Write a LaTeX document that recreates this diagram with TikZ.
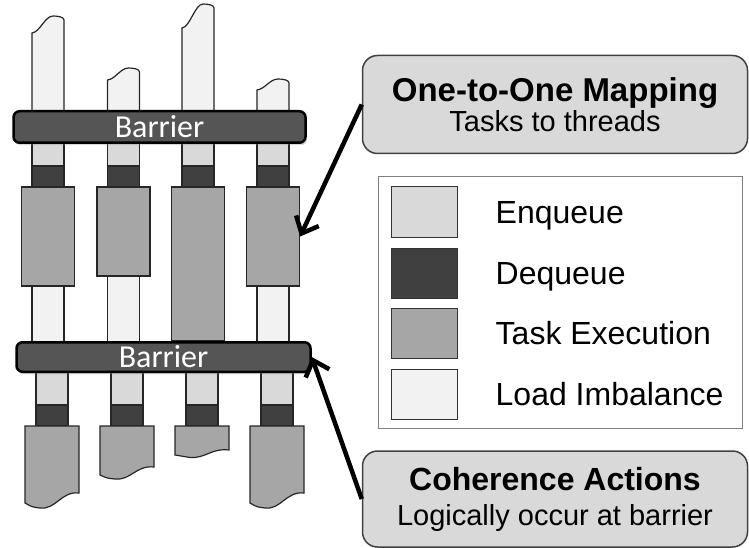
\documentclass[tikz,border=0pt]{standalone}
\usepackage{fontspec}
\setmainfont{Liberation Sans}
\newfontfamily\barfont{Carlito}
\usepackage{tikz}
\usetikzlibrary{positioning,arrows.meta,shadows}
\definecolor{enq}{HTML}{D9D9D9}
\definecolor{deq}{HTML}{404040}
\definecolor{exec}{HTML}{A6A6A6}
\definecolor{imbal}{HTML}{F2F2F2}
\definecolor{barfill}{HTML}{555555}
\tikzset{
 thread/.style={draw=black!85,line width=1.2pt},
 enqueue/.style={thread,fill=enq},
 dequeue/.style={thread,fill=deq},
 imbalance/.style={thread,fill=imbal},
 taskbox/.style={thread,fill=exec,rectangle,inner sep=0pt,minimum width=53pt},
 barrier/.style={rectangle,rounded corners=6pt,draw=black,line width=2.5pt,
   fill=barfill,text=white,inner sep=0pt,
   font=\barfont\fontsize{32}{32}\selectfont,text height=20.6pt,text depth=0pt,
   drop shadow={opacity=0.3,shadow xshift=1.5pt,shadow yshift=-2.5pt}},
 callout/.style={rectangle,rounded corners=15pt,draw=black!75,line width=1.5pt,
   fill=enq,minimum width=385pt,align=center,inner sep=0pt},
 swatch/.style={rectangle,draw=black!80,line width=1pt,minimum width=66pt,
   minimum height=50pt,inner sep=0pt},
 entry/.style={font=\fontsize{32}{32}\selectfont,text height=23pt,text depth=0pt,
   inner sep=0pt},
 pointer/.style={-{Straight Barb[length=14pt,width=25pt]},line width=4.5pt}
}
\begin{document}
\begin{tikzpicture}[x=1pt,y=-1pt]
\useasboundingbox (0,0) rectangle (749,548);
% threads before the first barrier
\foreach \cx/\yl/\yr/\yb [count=\i] in {48/33/20/286,123.5/80/72/276,198/28/8/341,273/90/83/286}{
  \draw[imbalance] (\cx-16,127) -- (\cx-16,\yl) .. controls (\cx-8,\yl-1) and (\cx-3,\yr-4) .. (\cx+5,\yr-4)
     .. controls (\cx+10,\yr-4) and (\cx+16,\yr-3) .. (\cx+16,\yr) -- (\cx+16,127) -- cycle;
  \draw[enqueue] (\cx-16,127) rectangle (\cx+16,166);
  \draw[dequeue] (\cx-16,166) rectangle (\cx+16,187);
  \draw[imbalance] (\cx-16,\yb) rectangle (\cx+16,357);
  \node[taskbox,minimum height=\yb-187] (task\i) at (\cx,{(187+\yb)/2}) {};
}
% threads after the second barrier
\foreach \cx/\yl/\yr in {52/503/493,127/475/467,202/455/450,277/503/493}{
  \draw[enqueue] (\cx-16,357) rectangle (\cx+16,405);
  \draw[dequeue] (\cx-16,405) rectangle (\cx+16,426);
  \draw[thread,fill=exec] (\cx+27,426) -- (\cx+27,\yr)
     .. controls ({\cx+9},{\yr-2}) and ({\cx+4},{\yl+0.7*(\yl-\yr)}) .. ({\cx-12},{\yl+0.5*(\yl-\yr)})
     .. controls ({\cx-20},{\yl+0.4*(\yl-\yr)}) .. (\cx-27,\yl) -- (\cx-27,426) -- cycle;
}
\node[barrier,minimum width=292pt,minimum height=31.5pt] (bar1) at (159.5,127) {Barrier};
\node[barrier,minimum width=294pt,minimum height=29.5pt] (bar2) at (163.5,357) {Barrier};

\node[callout,minimum height=98pt,font=\fontsize{29}{30}\selectfont] (map) at (555,104.5)
  {{\bfseries\fontsize{33}{30}\selectfont One-to-One Mapping}\\Tasks to threads};
\node[callout,minimum height=96pt,font=\fontsize{29}{35}\selectfont] (coh) at (555,499)
  {{\bfseries\fontsize{32}{35}\selectfont Coherence Actions}\\Logically occur at barrier};

\draw[draw=black!50,line width=1pt] (378,177) rectangle (742,428);
\node[swatch,fill=enq] (sw1) at (424,212) {};
\node[swatch,fill=deq,below=10pt of sw1] (sw2) {};
\node[swatch,fill=exec,below=9pt of sw2] (sw3) {};
\node[swatch,fill=imbal,below=10pt of sw3] (sw4) {};
\node[entry,right=38pt of sw1] (lenq) {Enqueue};
\node[entry,right=38pt of sw2] (ldeq) {Dequeue};
\node[entry,right=38pt of sw3] (lexec) {Task Execution};
\node[entry,right=38pt of sw4] (limbal) {Load Imbalance};

\draw[pointer] (map.west) -- (task4.east);
\draw[pointer] (coh.west) -- (bar2.east);
\end{tikzpicture}
\end{document}
